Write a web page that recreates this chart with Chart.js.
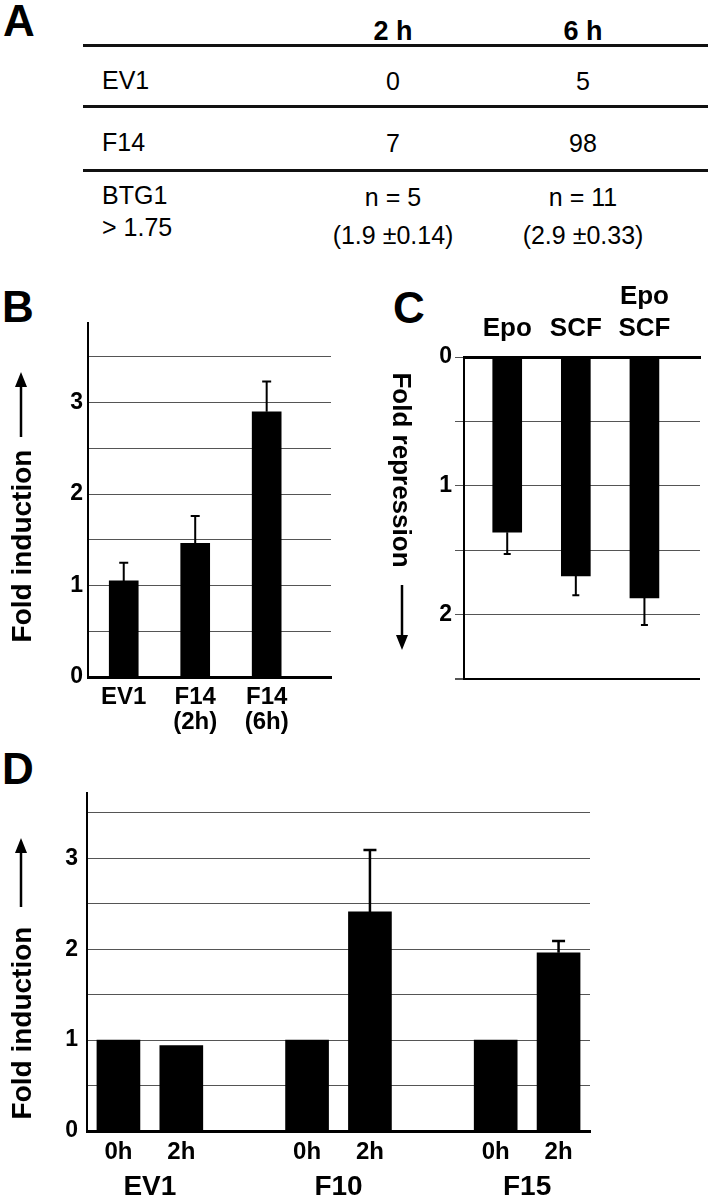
<!DOCTYPE html>
<html>
<head>
<meta charset="utf-8">
<script src="https://cdn.jsdelivr.net/npm/chart.js@4.4.1/dist/chart.umd.min.js"></script>
<style>
  body { margin: 0; background: #fff; }
  #page { position: relative; width: 710px; height: 1199px; overflow: hidden;
          font-family: "Liberation Sans", Arial, sans-serif; color: #000; }
  .t { position: absolute; line-height: 1; white-space: nowrap; transform: translate(-50%, -50%); }
  .left { transform: translate(0, -50%); }
  .panel { font-size: 44px; font-weight: bold; }
  .cell { font-size: 25px; }
  .head { font-size: 27px; font-weight: bold; }
  .rule { position: absolute; left: 83px; width: 625px; height: 3px; background: #111; }
  canvas { position: absolute; }
</style>
</head>
<body>
<div id="page">
  <div class="t panel" style="left:19px;top:21px">A</div>
  <div class="t panel" style="left:18px;top:307px">B</div>
  <div class="t panel" style="left:409px;top:308px">C</div>
  <div class="t panel" style="left:18px;top:769px">D</div>
  <canvas id="chartB" width="345" height="460" style="left:0;top:280px"></canvas>
  <canvas id="chartC" width="370" height="420" style="left:340px;top:280px"></canvas>
  <canvas id="chartD" width="710" height="429" style="left:0;top:770px"></canvas>
</div>
<script>
// panel A: microarray counts
const tableCols = ["2 h", "6 h"];
const tableRows = ["EV1", "F14"];
const tableCounts = [[0, 5], [7, 98]];
const btgLabel = ["BTG1", "> 1.75"];
const btgN = [5, 11];
const btgMean = [1.9, 2.9];
const btgSd = [0.14, 0.33];

// panel B
const bLabels = [["EV1"], ["F14", "(2h)"], ["F14", "(6h)"]];
const bValues = [1.05, 1.46, 2.9];
const bErrors = [0.2, 0.3, 0.33];

// panel C
const cLabels = [["Epo"], ["SCF"], ["Epo", "SCF"]];
const cValues = [1.36, 1.7, 1.87];
const cErrors = [0.17, 0.15, 0.21];

// panel D
const dGroups = ["EV1", "F10", "F15"];
const dTimes = ["0h", "2h"];
const dValues = [1, 0.94, 1, 2.41, 1, 1.96];
const dErrors = [0, 0, 0, 0.68, 0, 0.13];

const inductionTicks = [0, 0.5, 1, 1.5, 2, 2.5, 3, 3.5];
const repressionTicks = [0, 0.5, 1, 1.5, 2, 2.5];

const sans = "'Liberation Sans', Arial, sans-serif";

// ---- table A ----
const page = document.getElementById("page");
function put(text, x, y, cls) {
  const el = document.createElement("div");
  el.className = "t " + cls;
  el.style.left = x + "px";
  el.style.top = y + "px";
  el.textContent = text;
  page.appendChild(el);
}
const colX = [393, 583];
[45, 106, 170].forEach((y) => {
  const r = document.createElement("div");
  r.className = "rule";
  r.style.top = y - 1.5 + "px";
  page.appendChild(r);
});
tableCols.forEach((c, i) => put(c, colX[i], 31, "head"));
tableRows.forEach((r, ri) => {
  const y = [80, 142][ri];
  put(r, 102, y, "cell left");
  tableCounts[ri].forEach((v, ci) => put(String(v), colX[ci], y + 1, "cell"));
});
put(btgLabel[0], 102, 195, "cell left");
put(btgLabel[1], 102, 227, "cell left");
btgN.forEach((n, i) => {
  put("n = " + n, colX[i], 197, "cell");
  put("(" + btgMean[i] + " \u00b1" + btgSd[i] + ")", colX[i], 235, "cell");
});

// ---- plugins ----
const errorBars = {
  id: "errorBars",
  afterDatasetsDraw(chart, args, o) {
    const ctx = chart.ctx;
    const yScale = chart.scales.y;
    const bars = chart.getDatasetMeta(0).data;
    ctx.save();
    ctx.strokeStyle = "#000";
    ctx.lineWidth = o.width;
    bars.forEach((bar, i) => {
      const err = o.errors[i];
      if (!err) return;
      const y0 = yScale.getPixelForValue(o.values[i]);
      const y1 = yScale.getPixelForValue(o.values[i] + err);
      ctx.beginPath();
      ctx.moveTo(bar.x, y0);
      ctx.lineTo(bar.x, y1);
      ctx.moveTo(bar.x - o.cap / 2, y1);
      ctx.lineTo(bar.x + o.cap / 2, y1);
      ctx.stroke();
    });
    ctx.restore();
  }
};

const sideTitle = {
  id: "sideTitle",
  afterDraw(chart, args, o) {
    const ctx = chart.ctx;
    ctx.save();
    ctx.fillStyle = "#000";
    ctx.strokeStyle = "#000";
    ctx.font = o.font;
    ctx.translate(o.x, o.y);
    ctx.rotate(o.angle);
    ctx.textAlign = "center";
    ctx.textBaseline = "alphabetic";
    ctx.fillText(o.text, 0, 0);
    ctx.restore();

    // arrow next to the title
    ctx.save();
    const dir = Math.sign(o.arrowTo - o.arrowFrom);
    const head = 15, half = 6;
    ctx.lineWidth = 2.5;
    ctx.beginPath();
    ctx.moveTo(o.arrowX, o.arrowFrom);
    ctx.lineTo(o.arrowX, o.arrowTo - dir * head);
    ctx.stroke();
    ctx.beginPath();
    ctx.moveTo(o.arrowX, o.arrowTo);
    ctx.lineTo(o.arrowX - half, o.arrowTo - dir * head);
    ctx.lineTo(o.arrowX + half, o.arrowTo - dir * head);
    ctx.closePath();
    ctx.fill();
    ctx.restore();
  }
};

const gridGray = "#555";
const tickFont = { family: sans, weight: "bold", size: 23 };

// ---- chart B ----
new Chart(document.getElementById("chartB"), {
  type: "bar",
  data: {
    datasets: [{
      data: bValues.map((v, i) => ({ x: i + 1, y: v })),
      backgroundColor: "#000",
      barThickness: 29
    }]
  },
  options: {
    responsive: false,
    animation: false,
    layout: { padding: { top: 43, right: 14, bottom: 0, left: 0 } },
    plugins: {
      legend: { display: false },
      tooltip: { enabled: false },
      errorBars: { values: bValues, errors: bErrors, cap: 9, width: 2 },
      sideTitle: {
        text: "Fold induction", font: "bold 28px " + sans, x: 31, y: 266, angle: -Math.PI / 2,
        arrowX: 21, arrowFrom: 157, arrowTo: 92
      }
    },
    scales: {
      x: {
        type: "linear", min: 0.5, max: 3.9, offset: false,
        grid: { display: false, offset: false, drawTicks: false },
        border: { color: "#000", width: 3 },
        afterBuildTicks: (s) => { s.ticks = bLabels.map((l, i) => ({ value: i + 1 })); },
        afterFit: (s) => { s.height = 63; },
        ticks: {
          callback: (v) => bLabels[v - 1],
          font: { family: sans, weight: "bold", size: 24, lineHeight: 1.05 },
          color: "#000", padding: 8, maxRotation: 0, autoSkip: false
        }
      },
      y: {
        min: 0, max: 3.87,
        afterBuildTicks: (s) => { s.ticks = inductionTicks.map((v) => ({ value: v })); },
        afterFit: (s) => { s.width = 88; },
        grid: { color: gridGray, lineWidth: 1, drawTicks: false },
        border: { color: "#000", width: 2 },
        ticks: {
          callback: (v) => (Number.isInteger(v) ? v : ""),
          font: tickFont, color: "#000", padding: 5
        }
      }
    }
  },
  plugins: [errorBars, sideTitle]
});

// ---- chart C ----
new Chart(document.getElementById("chartC"), {
  type: "bar",
  data: {
    datasets: [{
      data: cValues.map((v, i) => ({ x: i + 1, y: v })),
      backgroundColor: "#000",
      barThickness: 29
    }]
  },
  options: {
    responsive: false,
    animation: false,
    layout: { padding: { top: 0, right: 10, bottom: 21, left: 0 } },
    plugins: {
      legend: { display: false },
      tooltip: { enabled: false },
      errorBars: { values: cValues, errors: cErrors, cap: 7, width: 2 },
      sideTitle: {
        text: "Fold repression", font: "bold 26px " + sans, x: 53, y: 190, angle: Math.PI / 2,
        arrowX: 62, arrowFrom: 305, arrowTo: 370
      }
    },
    scales: {
      x: {
        type: "linear", position: "top", min: 0.37, max: 3.81, offset: false,
        grid: { display: false, offset: false, drawTicks: false },
        border: { color: "#000", width: 3 },
        afterBuildTicks: (s) => { s.ticks = cLabels.map((l, i) => ({ value: i + 1 })); },
        afterFit: (s) => { s.height = 77; },
        ticks: {
          callback: (v) => cLabels[v - 1],
          font: { family: sans, weight: "bold", size: 26, lineHeight: 1.23 },
          color: "#000", padding: 12, maxRotation: 0, autoSkip: false
        }
      },
      y: {
        reverse: true, min: 0, max: 2.5,
        afterBuildTicks: (s) => { s.ticks = repressionTicks.map((v) => ({ value: v })); },
        afterFit: (s) => { s.width = 124; },
        grid: {
          color: (c) => (c.tick && c.tick.value === 2.5 ? "#000" : gridGray),
          lineWidth: (c) => (c.tick && c.tick.value === 2.5 ? 2 : 1),
          drawTicks: true, tickLength: 9, tickColor: gridGray
        },
        border: { color: "#000", width: 2 },
        ticks: {
          callback: (v) => (Number.isInteger(v) ? v : ""),
          font: tickFont, color: "#000", padding: 3
        }
      }
    }
  },
  plugins: [errorBars, sideTitle]
});

// ---- chart D ----
const dPositions = dGroups.flatMap((g, gi) => dTimes.map((t, ti) => gi * 3 + ti + 1));
new Chart(document.getElementById("chartD"), {
  type: "bar",
  data: {
    datasets: [{
      data: dValues.map((v, i) => ({ x: dPositions[i], y: v })),
      backgroundColor: "#000",
      barThickness: 43
    }]
  },
  options: {
    responsive: false,
    animation: false,
    layout: { padding: { top: 20, right: 120, bottom: 0, left: 0 } },
    plugins: {
      legend: { display: false },
      tooltip: { enabled: false },
      errorBars: { values: dValues, errors: dErrors, cap: 13, width: 2.5 },
      sideTitle: {
        text: "Fold induction", font: "bold 28px " + sans, x: 31, y: 253, angle: -Math.PI / 2,
        arrowX: 21, arrowFrom: 137, arrowTo: 68
      }
    },
    scales: {
      x: {
        type: "linear", min: 0.5, max: 8.5, weight: 0, offset: false,
        grid: { display: false, offset: false, drawTicks: false },
        border: { color: "#000", width: 3 },
        afterBuildTicks: (s) => { s.ticks = dPositions.map((p) => ({ value: p })); },
        afterFit: (s) => { s.height = 34; },
        ticks: {
          callback: (v, i) => dTimes[i % dTimes.length],
          font: { family: sans, weight: "bold", size: 24, lineHeight: 1 },
          color: "#000", padding: 9, maxRotation: 0, autoSkip: false
        }
      },
      x2: {
        type: "linear", position: "bottom", min: 0.5, max: 8.5, weight: 1, offset: false,
        grid: { display: false, offset: false, drawTicks: false },
        border: { display: false },
        afterBuildTicks: (s) => { s.ticks = dGroups.map((g, gi) => ({ value: gi * 3 + 1.5 })); },
        afterFit: (s) => { s.height = 34; },
        ticks: {
          callback: (v, i) => dGroups[i],
          font: { family: sans, weight: "bold", size: 28, lineHeight: 1 },
          color: "#000", padding: 8, maxRotation: 0, autoSkip: false
        }
      },
      y: {
        min: 0, max: 3.72,
        afterBuildTicks: (s) => { s.ticks = inductionTicks.map((v) => ({ value: v })); },
        afterFit: (s) => { s.width = 87; },
        grid: { color: gridGray, lineWidth: 1, drawTicks: false },
        border: { color: "#000", width: 2 },
        ticks: {
          callback: (v) => (Number.isInteger(v) ? v : ""),
          font: tickFont, color: "#000", padding: 9
        }
      }
    }
  },
  plugins: [errorBars, sideTitle]
});
</script>
</body>
</html>
